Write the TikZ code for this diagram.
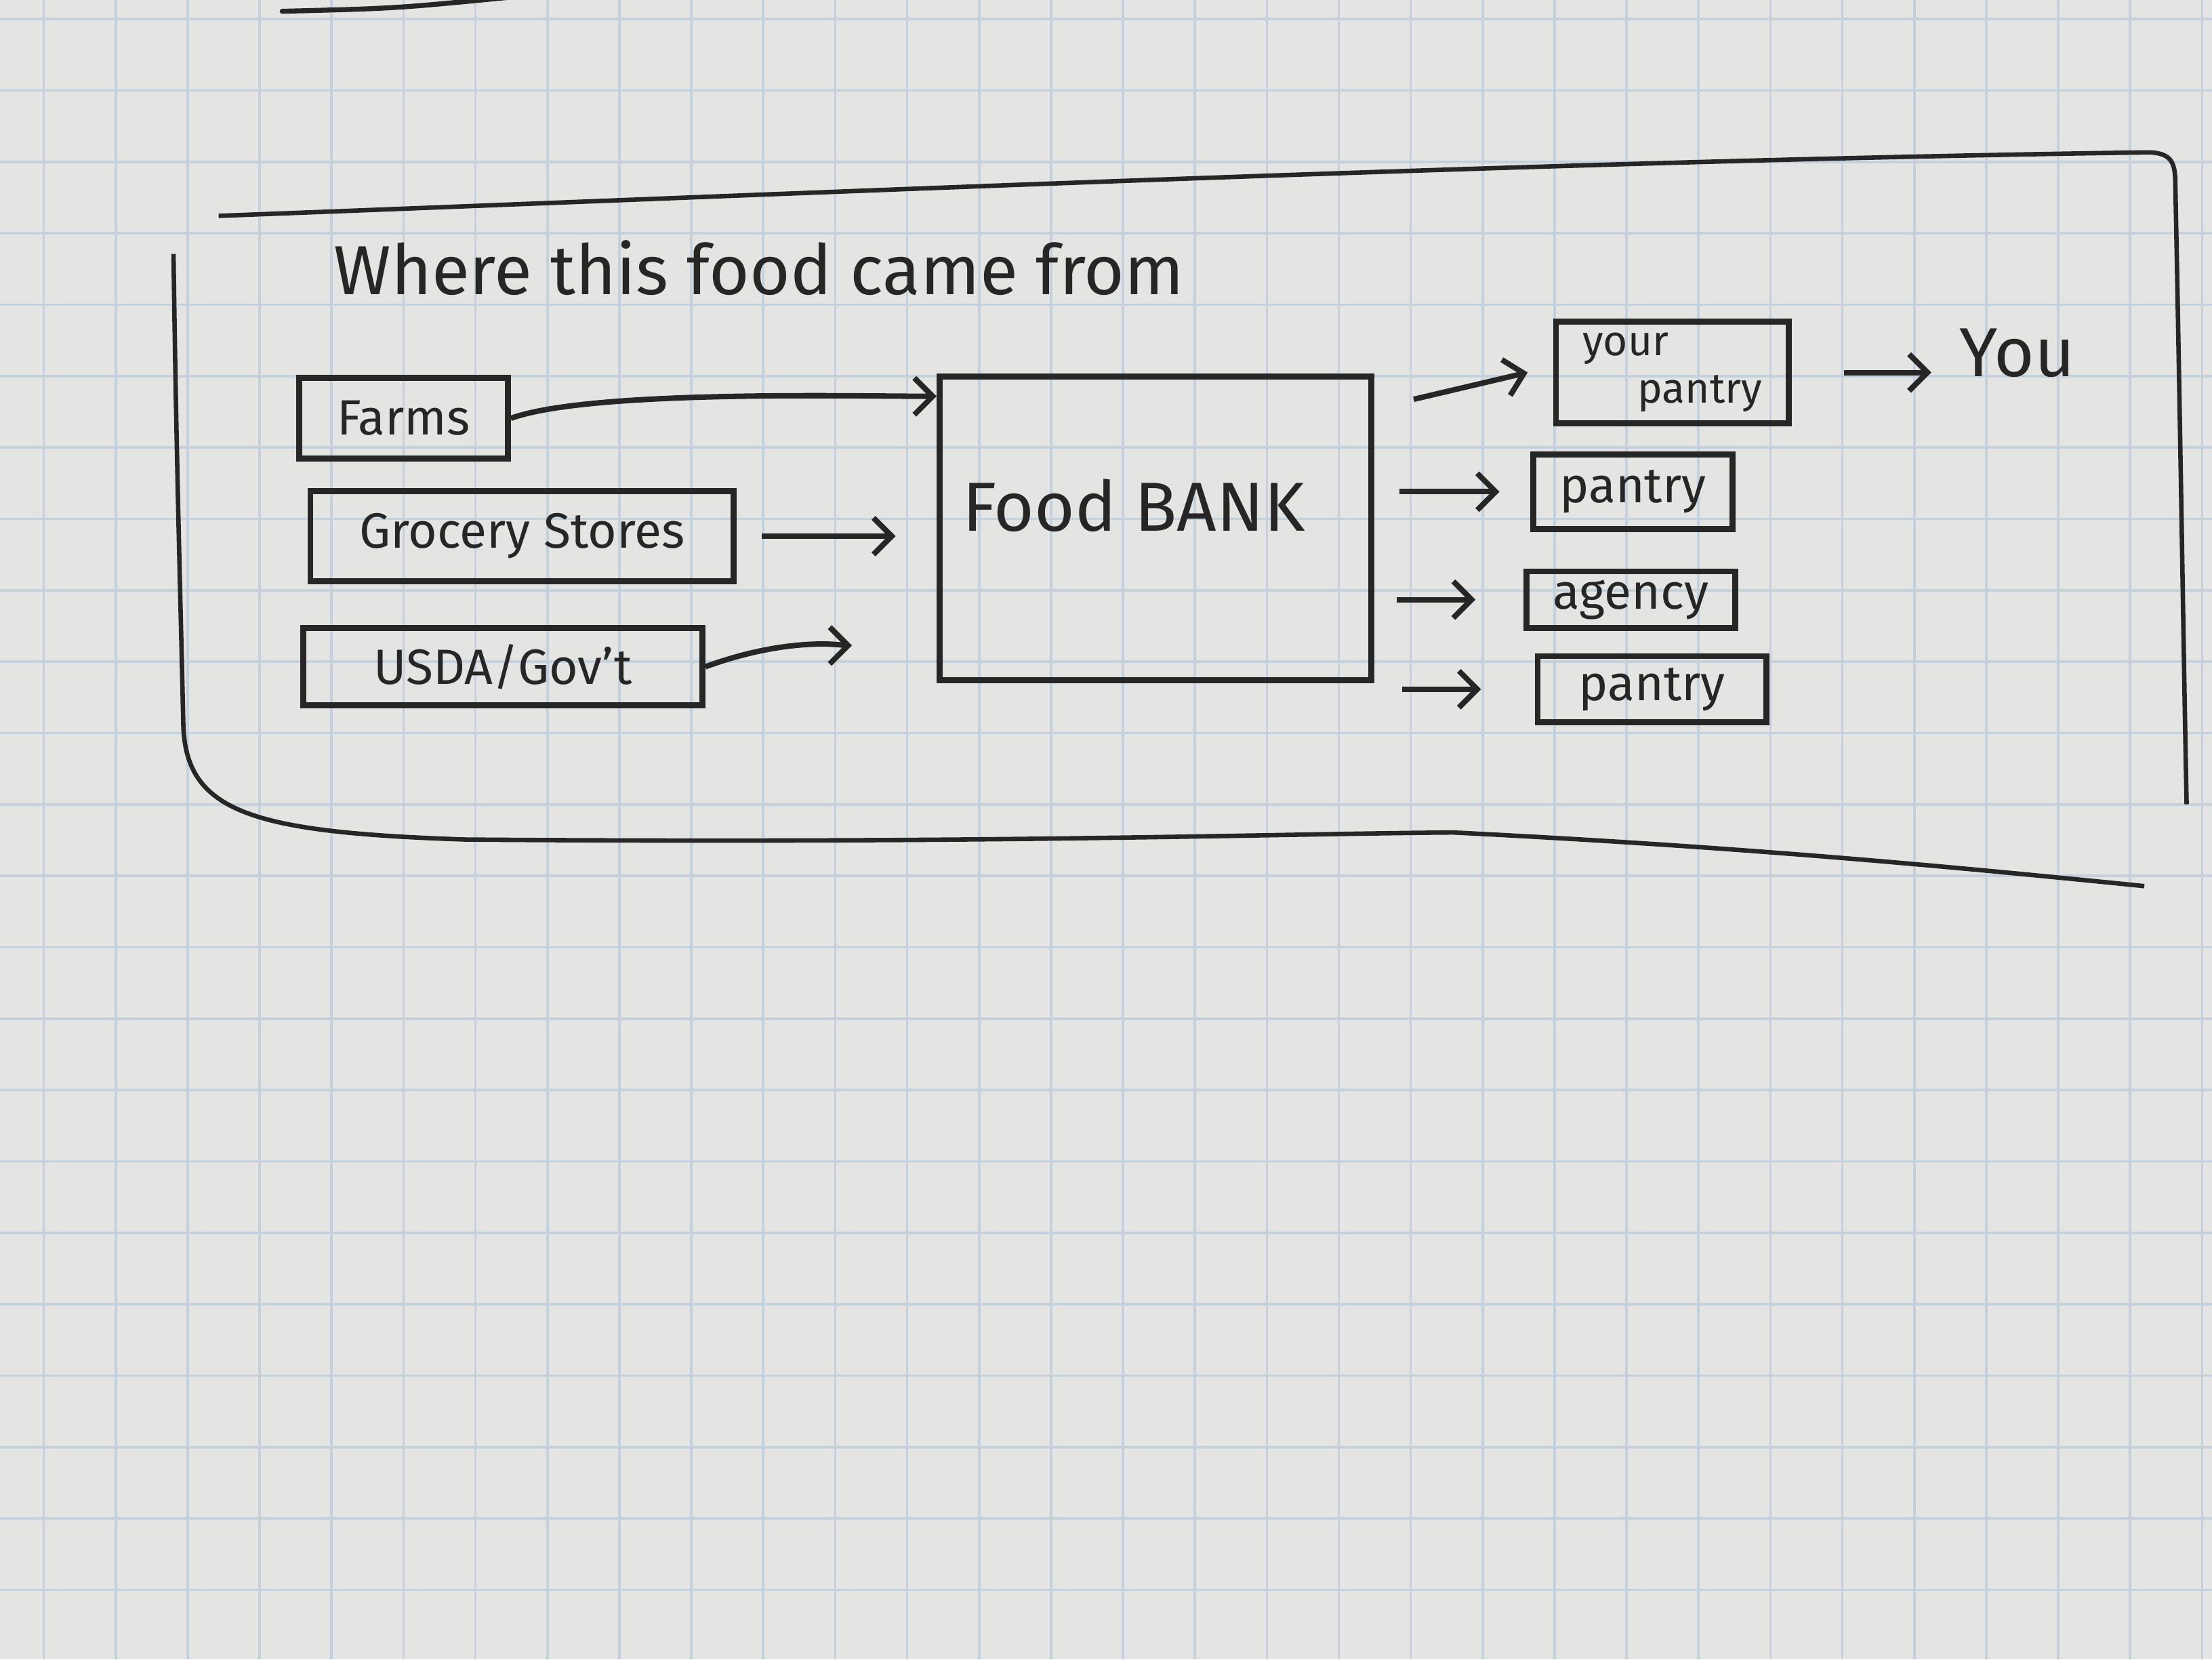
\documentclass[tikz,border=0pt]{standalone}
\usepackage{fontspec}
\setmainfont{Fira Sans}
\usetikzlibrary{positioning, arrows.meta}
\definecolor{paper}{RGB}{228,229,226}
\definecolor{gridblue}{RGB}{196,208,219}
\definecolor{pen}{RGB}{38,38,38}
\tikzset{
  box/.style={draw=pen, line width=2.4pt, inner sep=2pt, text=pen, font=\fontsize{20}{22}\selectfont},
  handtext/.style={text=pen, font=\fontsize{28}{30}\selectfont},
  pen arrow/.style={draw=pen, line width=2.2pt, -{Straight Barb[length=2.6mm,width=5.2mm]}},
}

\begin{document}
\begin{tikzpicture}[x=0.2mm, y=0.2mm]
		      \useasboundingbox (0,0) rectangle (1568,1176);
		      \clip (0,0) rectangle (1568,1176);
		      % squared paper
		      \fill[paper] (0,0) rectangle (1568,1176);
		      \foreach \i in {0,...,30} \draw[gridblue, line width=1pt] (31+51*\i,0) -- (31+51*\i,1176);
		      \foreach \j in {0,...,22} \draw[gridblue, line width=1pt] (0,49.2+50.6*\j) -- (1568,49.2+50.6*\j);
		      % stroke left over at the top edge
		      \draw[pen, line width=2pt, line cap=round] (200,1168) .. controls (280,1170) .. (362,1178);
		      % outer frame
		      \draw[pen, line width=1.8pt] (155,1023) .. controls (600,1040) and (1100,1062) .. (1522,1068) .. controls (1540,1068) and (1542,1060) .. (1542,1045) .. controls (1546,850) and (1548,700) .. (1550,606);
		      \draw[pen, line width=1.8pt] (123,996) .. controls (125,850) and (128,750) .. (130,660) .. controls (133,600) and (180,586) .. (330,581) .. controls (700,578) and (900,585) .. (1030,586) .. controls (1250,575) and (1400,560) .. (1520,548);
		      \node[handtext] (title) at (538,986) {Where this food came from};
		      % sources
		      \node[box, minimum width=29.6mm, minimum height=11.4mm] (farms) at (286,879.5) {Farms};
		      \node[box, minimum width=60mm, minimum height=12.8mm] (grocery) at (370,796) {Grocery Stores};
		      \node[box, minimum width=56.6mm, minimum height=11mm] (usda) at (356.5,703.5) {USDA/Gov't};
		      % food bank
		      \node[box, minimum width=61.2mm, minimum height=43mm] (bank) at (819,801.5) {};
		      \node[handtext, anchor=west] (banklabel) at (676,818) {Food BANK};
		      % outlets
		      \node[box, minimum width=33mm, minimum height=14.4mm, align=left, font=\fontsize{17}{19}\selectfont] (yourpantry) at (1185.5,912) {your\\\hspace*{1.3em}pantry};
		      \node[box, minimum width=28.2mm, minimum height=10.6mm] (pantry) at (1157.5,827.5) {pantry};
		      \node[box, minimum width=29.6mm, minimum height=8mm, inner sep=1pt] (agency) at (1156,751) {agency};
		      \node[box, minimum width=32.4mm, minimum height=9.4mm] (pantrytwo) at (1171,687.5) {pantry};
		      \node[handtext] (you) at (1430,926) {You};
		      \draw[pen arrow] (farms.east) to[out=20, in=180, looseness=0.5] ([yshift=-3.2mm]bank.north west);
		      \draw[pen arrow, shorten <=3.6mm, shorten >=5.8mm] (grocery.east) -- (grocery.east -| bank.west);
		      \draw[pen arrow, shorten >=12mm] (usda.east) to[out=20, in=180] ([yshift=3mm]usda.east -| bank.west);
		      \draw[pen arrow] ([xshift=5.6mm, yshift=-3.8mm]bank.east |- yourpantry.west) -- ([xshift=-3.6mm]yourpantry.west);
		      \draw[pen arrow, shorten <=7.4mm, shorten >=2.8mm] (yourpantry.east) -- (yourpantry.east -| you.west);
		      \draw[pen arrow, shorten <=3.6mm, shorten >=4.4mm] (bank.east |- pantry.west) -- (pantry.west);
		      \draw[pen arrow, shorten <=3.2mm, shorten >=6.8mm] (bank.east |- agency.west) -- (agency.west);
		      \draw[pen arrow, shorten <=4mm, shorten >=7.6mm] (bank.east |- pantrytwo.west) -- (pantrytwo.west);

	      \end{tikzpicture}
\end{document}
